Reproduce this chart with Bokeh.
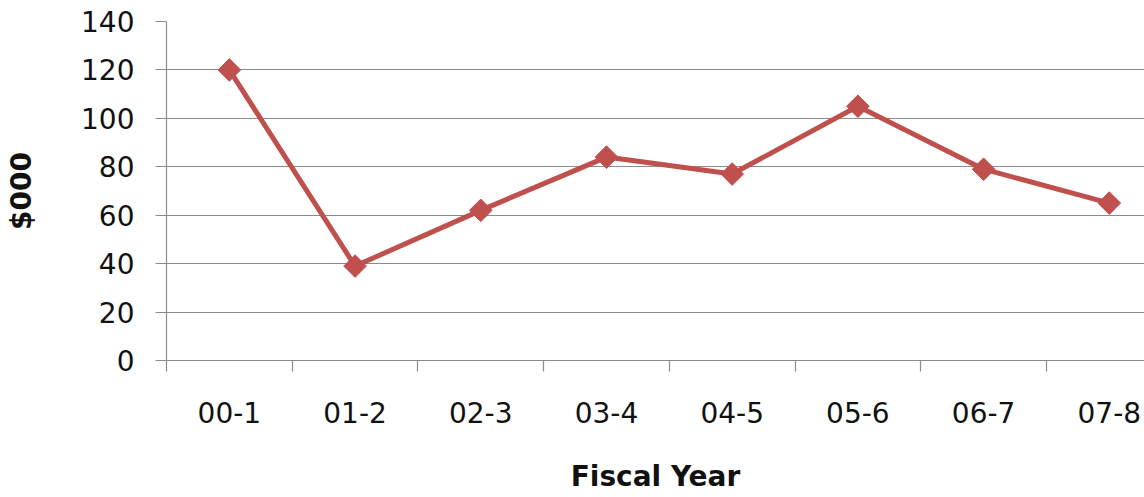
from bokeh.plotting import figure
from bokeh.models import FixedTicker, Range1d
from bokeh.embed import file_html
from bokeh.resources import INLINE
import math

categories = ["00-1", "01-2", "02-3", "03-4", "04-5", "05-6", "06-7", "07-8"]
values = [120, 39, 62, 84, 77, 105, 79, 65]
y_ticks = [0, 20, 40, 60, 80, 100, 120, 140]

positions = [i + 0.5 for i in range(len(categories))]
boundaries = list(range(len(categories) + 1))

FONT = "DejaVu Sans"
GRID = "#8c8c8c"
RED = "#C0504D"
TXT = "#111111"
FS = "28px"

p = figure(width=1144, height=497, output_backend="svg", toolbar_location=None,
           x_range=Range1d(0, 7.78), y_range=Range1d(0, 140),
           min_border_left=166, min_border_right=0, min_border_top=21,
           min_border_bottom=137)
p.outline_line_color = None
p.background_fill_color = "white"
p.border_fill_color = "white"

p.xgrid.grid_line_color = None
p.ygrid.grid_line_color = GRID
p.ygrid.grid_line_width = 1.2

xa = p.xaxis[0]
xa.ticker = FixedTicker(ticks=positions, minor_ticks=boundaries)
xa.major_label_overrides = {pos: c for pos, c in zip(positions, categories)}
xa.major_tick_out = 0
xa.major_tick_in = 0
xa.minor_tick_out = 11
xa.minor_tick_in = 0
xa.minor_tick_line_color = GRID
xa.minor_tick_line_width = 1.2
xa.axis_line_color = GRID
xa.axis_line_width = 1.2
xa.major_label_text_font = FONT
xa.major_label_text_font_size = FS
xa.major_label_text_color = TXT
xa.major_label_standoff = 30
xa.axis_label = "Fiscal Year"
xa.axis_label_text_font = FONT
xa.axis_label_text_font_style = "bold"
xa.axis_label_text_font_size = FS
xa.axis_label_text_color = TXT
xa.axis_label_standoff = 34

ya = p.yaxis[0]
ya.ticker = FixedTicker(ticks=y_ticks)
ya.major_tick_out = 11
ya.major_tick_in = 0
ya.major_tick_line_color = GRID
ya.major_tick_line_width = 1.2
ya.minor_tick_line_color = None
ya.axis_line_color = GRID
ya.axis_line_width = 1.2
ya.major_label_text_font = FONT
ya.major_label_text_font_size = FS
ya.major_label_text_color = TXT
ya.major_label_standoff = 21
ya.axis_label = "$000"
ya.axis_label_text_font = FONT
ya.axis_label_text_font_style = "bold"
ya.axis_label_text_font_size = FS
ya.axis_label_text_color = TXT
ya.axis_label_standoff = 40

p.line(positions, values, line_color=RED, line_width=5, line_join="round")
p.scatter(positions, values, marker="square", angle=math.pi / 4, size=16,
          fill_color=RED, line_color=RED)

open("out.html", "w").write(file_html(p, INLINE))
